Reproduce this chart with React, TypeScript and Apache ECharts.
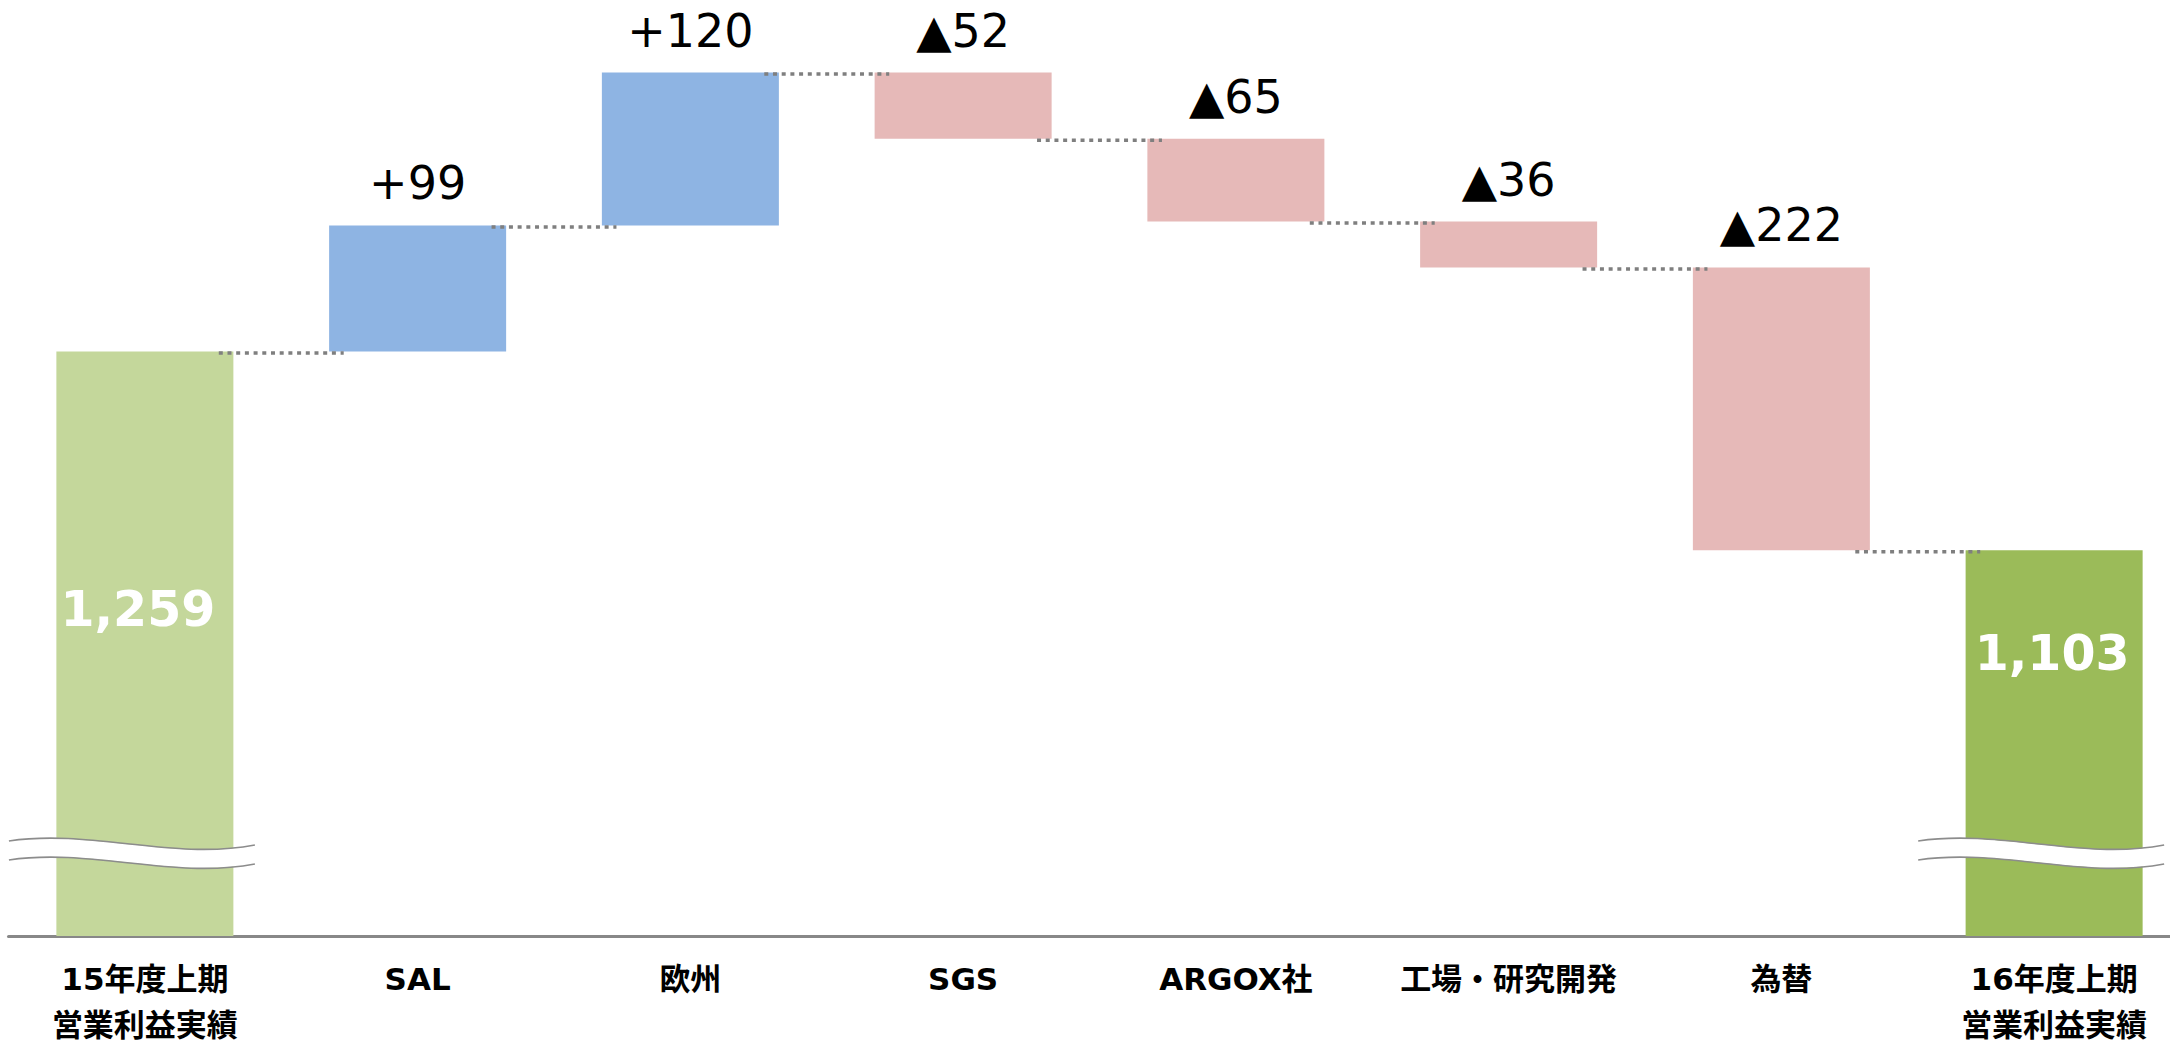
import React, { useEffect, useRef } from "react";
import * as echarts from "echarts";

// Category labels (the two period totals use two-line labels)
const categories = [
  "15年度上期\n営業利益実績",
  "SAL",
  "欧州",
  "SGS",
  "ARGOX社",
  "工場・研究開発",
  "為替",
  "16年度上期\n営業利益実績",
];

// Operating profit at the start and at the end of the period
const startTotal = 1259;
const endTotal = 1103;
// Change contributed by each factor between the two totals
const deltas = [99, 120, -52, -65, -36, -222];

// Value axis range (the axis is broken below the totals)
const axisMin = 800;
const axisMax = 1535;
// Where the break marks and the total labels sit on the value axis
const breakLevel = 865;
const totalLabelLevels = [1056, 1022];
const totalLabelShift = [-7, -2];

const COLOR_START = "#C4D79B";
const COLOR_END = "#9BBB59";
const COLOR_UP = "#8EB4E3";
const COLOR_DOWN = "#E6B9B8";
const CONNECTOR = "#7F7F7F";
const BREAK_EDGE = "#8C8C8C";

const LATIN = "'DejaVu Sans', 'Noto Sans CJK JP', sans-serif";

const BAR_RATIO = 0.649;

function withCommas(v: number): string {
  return String(v).replace(/\B(?=(\d{3})+(?!\d))/g, ",");
}

type Kind = "start" | "end" | "up" | "down";

// Each bar: [categoryIndex, low, high]
const barData: number[][] = [];
const barKinds: Kind[] = [];
const barLabels: string[] = [];
// Each connector: [categoryIndex, level] joining bar i to bar i + 1
const connectorData: number[][] = [];

(function buildWaterfall() {
  let running = startTotal;
  barData.push([0, axisMin, startTotal]);
  barKinds.push("start");
  barLabels.push(withCommas(startTotal));
  connectorData.push([0, running]);
  deltas.forEach((d, k) => {
    const next = running + d;
    barData.push([k + 1, Math.min(running, next), Math.max(running, next)]);
    barKinds.push(d >= 0 ? "up" : "down");
    barLabels.push(d >= 0 ? `+${d}` : `▲${-d}`);
    running = next;
    if (k < deltas.length - 1) connectorData.push([k + 1, running]);
  });
  connectorData.push([deltas.length, running]);
  barData.push([deltas.length + 1, axisMin, endTotal]);
  barKinds.push("end");
  barLabels.push(withCommas(endTotal));
})();

const fillFor = (k: Kind) =>
  k === "start" ? COLOR_START : k === "end" ? COLOR_END : k === "up" ? COLOR_UP : COLOR_DOWN;

function renderBar(params: any, api: any) {
  const idx = params.dataIndex;
  const i = api.value(0);
  const low = api.value(1);
  const high = api.value(2);
  const band = api.size([1, 0])[0];
  const w = band * BAR_RATIO;
  const top = api.coord([i, high]);
  const bottom = api.coord([i, low]);
  const cx = top[0];
  const kind = barKinds[idx];
  const children: any[] = [
    {
      type: "rect",
      shape: { x: cx - w / 2, y: top[1], width: w, height: bottom[1] - top[1] },
      style: { fill: fillFor(kind) },
    },
  ];
  if (kind === "start" || kind === "end") {
    // wavy axis-break mark across the total bar
    const by = api.coord([i, breakLevel])[1];
    const x0 = cx - band * 0.4985;
    const W = band * 0.9018;
    const curve = (dy: number) => ({
      x1: x0,
      y1: by - 2.7 + dy,
      cpx1: x0 + W / 3,
      cpy1: by - 15 + dy,
      cpx2: x0 + (2 * W) / 3,
      cpy2: by + 17 + dy,
      x2: x0 + W,
      y2: by + 1.2 + dy,
    });
    children.push({
      type: "bezierCurve",
      shape: curve(0),
      style: { stroke: "#ffffff", lineWidth: 18, fill: "none" },
    });
    children.push({
      type: "bezierCurve",
      shape: curve(-9.5),
      style: { stroke: BREAK_EDGE, lineWidth: 1.6, fill: "none" },
    });
    children.push({
      type: "bezierCurve",
      shape: curve(9.5),
      style: { stroke: BREAK_EDGE, lineWidth: 1.6, fill: "none" },
    });
    const which = kind === "start" ? 0 : 1;
    const ly = api.coord([i, totalLabelLevels[which]])[1];
    children.push({
      type: "text",
      x: cx + totalLabelShift[which],
      y: ly,
      style: {
        text: barLabels[idx],
        fill: "#ffffff",
        fontFamily: "'DejaVu Sans', sans-serif",
        fontWeight: "bold",
        fontSize: 49,
        align: "center",
        verticalAlign: "middle",
      },
    });
  } else {
    children.push({
      type: "text",
      x: cx,
      y: top[1] - 19,
      style: {
        text: barLabels[idx],
        fill: "#000000",
        fontFamily: "'DejaVu Sans', sans-serif",
        fontSize: 46,
        align: "center",
        verticalAlign: "bottom",
      },
    });
  }
  return { type: "group", children };
}

function renderConnector(_params: any, api: any) {
  const i = api.value(0);
  const level = api.value(1);
  const band = api.size([1, 0])[0];
  const p = api.coord([i, level]);
  const mid = p[0] + band / 2;
  const half = band * 0.229;
  const y = p[1] + 1.5;
  return {
    type: "line",
    shape: { x1: mid - half, y1: y, x2: mid + half, y2: y },
    style: { stroke: CONNECTOR, lineWidth: 3.5, lineDash: [4, 4.7] },
  };
}

export default function App() {
  const ref = useRef<HTMLDivElement>(null);

  useEffect(() => {
    if (!ref.current) return;
    const chart = echarts.init(ref.current, null, { renderer: "svg" });
    chart.setOption({
      animation: false,
      backgroundColor: "#ffffff",
      grid: {
        left: 8.5,
        top: 0,
        width: 2182,
        height: 936,
        containLabel: false,
        outerBoundsMode: "none",
      },
      xAxis: {
        type: "category",
        data: categories,
        axisLine: { show: true, onZero: false, lineStyle: { color: "#888888", width: 3 } },
        axisTick: { show: false },
        splitLine: { show: false },
        axisLabel: {
          interval: 0,
          margin: 20,
          color: "#000000",
          fontFamily: LATIN,
          fontWeight: "bold",
          fontSize: 31,
          lineHeight: 46,
        },
      },
      yAxis: {
        type: "value",
        min: axisMin,
        max: axisMax,
        show: false,
        splitLine: { show: false },
      },
      series: [
        {
          type: "custom",
          name: "bars",
          renderItem: renderBar,
          encode: { x: 0, y: [1, 2] },
          data: barData,
          z: 2,
        },
        {
          type: "custom",
          name: "connectors",
          renderItem: renderConnector,
          encode: { x: 0, y: 1 },
          data: connectorData,
          z: 3,
        },
      ],
    });
    return () => chart.dispose();
  }, []);

  return (
    <div
      ref={ref}
      style={{ position: "fixed", left: 0, top: 0, width: 2170, height: 1042, background: "#ffffff" }}
    />
  );
}
